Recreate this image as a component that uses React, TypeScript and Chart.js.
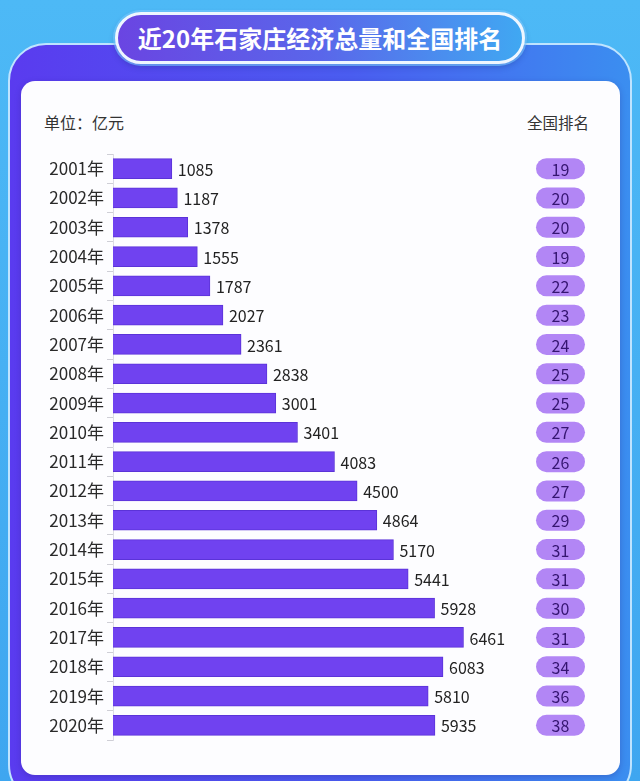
import React, { useEffect, useRef } from "react";
import { Chart, registerables } from "chart.js";

Chart.register(...registerables);

const years = ["2001年","2002年","2003年","2004年","2005年","2006年","2007年","2008年","2009年","2010年","2011年","2012年","2013年","2014年","2015年","2016年","2017年","2018年","2019年","2020年"];
const gdp = [1085,1187,1378,1555,1787,2027,2361,2838,3001,3401,4083,4500,4864,5170,5441,5928,6461,6083,5810,5935];
const ranks = [19,20,20,19,22,23,24,25,25,27,26,27,29,31,31,30,31,34,36,38];
const titleText = "近20年石家庄经济总量和全国排名";
const unitText = "单位：亿元";
const rankHeader = "全国排名";

const FONT = '"Noto Sans CJK SC", "Noto Sans", sans-serif';

export default function App() {
  const ref = useRef<HTMLCanvasElement | null>(null);

  useEffect(() => {
    const canvas = ref.current;
    if (!canvas) return;
    const labelPlugin = {
      id: "labelsAndRanks",
      afterDatasetsDraw(chart: any) {
        const ctx = chart.ctx;
        const meta = chart.getDatasetMeta(0);
        const yScale = chart.scales.y;
        ctx.save();
        meta.data.forEach((bar: any, i: number) => {
          ctx.font = `16px ${FONT}`;
          ctx.fillStyle = "#222";
          ctx.textAlign = "left";
          ctx.textBaseline = "middle";
          ctx.fillText(String(gdp[i]), bar.x + 6, bar.y + 1);
          const cy = yScale.getPixelForValue(i);
          const px = 536, pw = 49, ph = 21;
          ctx.beginPath();
          ctx.fillStyle = "#b286f5";
          ctx.roundRect(px, cy - ph / 2, pw, ph, ph / 2);
          ctx.fill();
          ctx.fillStyle = "#351570";
          ctx.textAlign = "center";
          ctx.fillText(String(ranks[i]), px + pw / 2, cy + 1);
        });
        ctx.restore();
      },
    };
    const chart = new Chart(canvas, {
      type: "bar",
      data: {
        labels: years,
        datasets: [
          {
            data: gdp,
            backgroundColor: "#7042f0",
            borderColor: "#5b33d8",
            borderWidth: 1,
            barThickness: 20,
          },
        ],
      },
      options: {
        indexAxis: "y",
        animation: false,
        responsive: false,
        devicePixelRatio: 1,
        layout: { padding: { left: 0, right: 93, top: 154, bottom: 41 } },
        plugins: { legend: { display: false }, tooltip: { enabled: false } },
        scales: {
          x: { display: false, min: 0, max: 8000 },
          y: {
            afterFit(scale: any) {
              scale.width = 113;
            },
            grid: { drawOnChartArea: false, color: "#cfcfd6", tickLength: 6 },
            border: { display: true, color: "#dcdce4", width: 1 },
            ticks: { color: "#2a2a2a", font: { size: 17, family: FONT }, padding: 3 },
          },
        },
      },
      plugins: [labelPlugin],
    });
    return () => chart.destroy();
  }, []);

  return (
    <div
      style={{
        position: "fixed",
        left: 0,
        top: 0,
        width: 640,
        height: 781,
        overflow: "hidden",
        background: "linear-gradient(180deg, #4db9f6 0%, #3ea6f0 100%)",
        fontFamily: FONT,
      }}
    >
      <div
        style={{
          position: "absolute",
          left: 8,
          top: 43,
          width: 624,
          height: 760,
          borderRadius: 38,
          border: "2px solid #bfe4ff",
          boxSizing: "border-box",
          background: "linear-gradient(90deg, #5a3bef 0%, #4a5df0 55%, #3b8ef0 100%)",
        }}
      />
      <div
        style={{
          position: "absolute",
          left: 21,
          top: 81,
          width: 599,
          height: 694,
          borderRadius: 14,
          background: "#fdfdff",
          boxShadow: "0 2px 6px rgba(40,20,120,0.25)",
        }}
      />
      <div
        style={{
          position: "absolute",
          left: 115,
          top: 12,
          width: 410,
          height: 52,
          borderRadius: 26,
          border: "3px solid #eef6ff",
          boxSizing: "border-box",
          background: "linear-gradient(90deg, #6a45e2 0%, #5a66ea 50%, #40a8f2 100%)",
          boxShadow: "0 0 0 2px rgba(120,200,255,0.6), 0 3px 6px rgba(20,40,120,0.3)",
          color: "#fff",
          fontWeight: 700,
          fontSize: 24,
          lineHeight: "46px",
          textAlign: "center",
          whiteSpace: "nowrap",
        }}
      >
        {titleText}
      </div>
      <div style={{ position: "absolute", left: 44, top: 110, fontSize: 16, lineHeight: "24px", color: "#333" }}>
        {unitText}
      </div>
      <div style={{ position: "absolute", left: 527, top: 110, fontSize: 15.5, lineHeight: "24px", color: "#333" }}>
        {rankHeader}
      </div>
      <canvas ref={ref} width={640} height={781} style={{ position: "absolute", left: 0, top: 0, width: 640, height: 781 }} />
    </div>
  );
}
